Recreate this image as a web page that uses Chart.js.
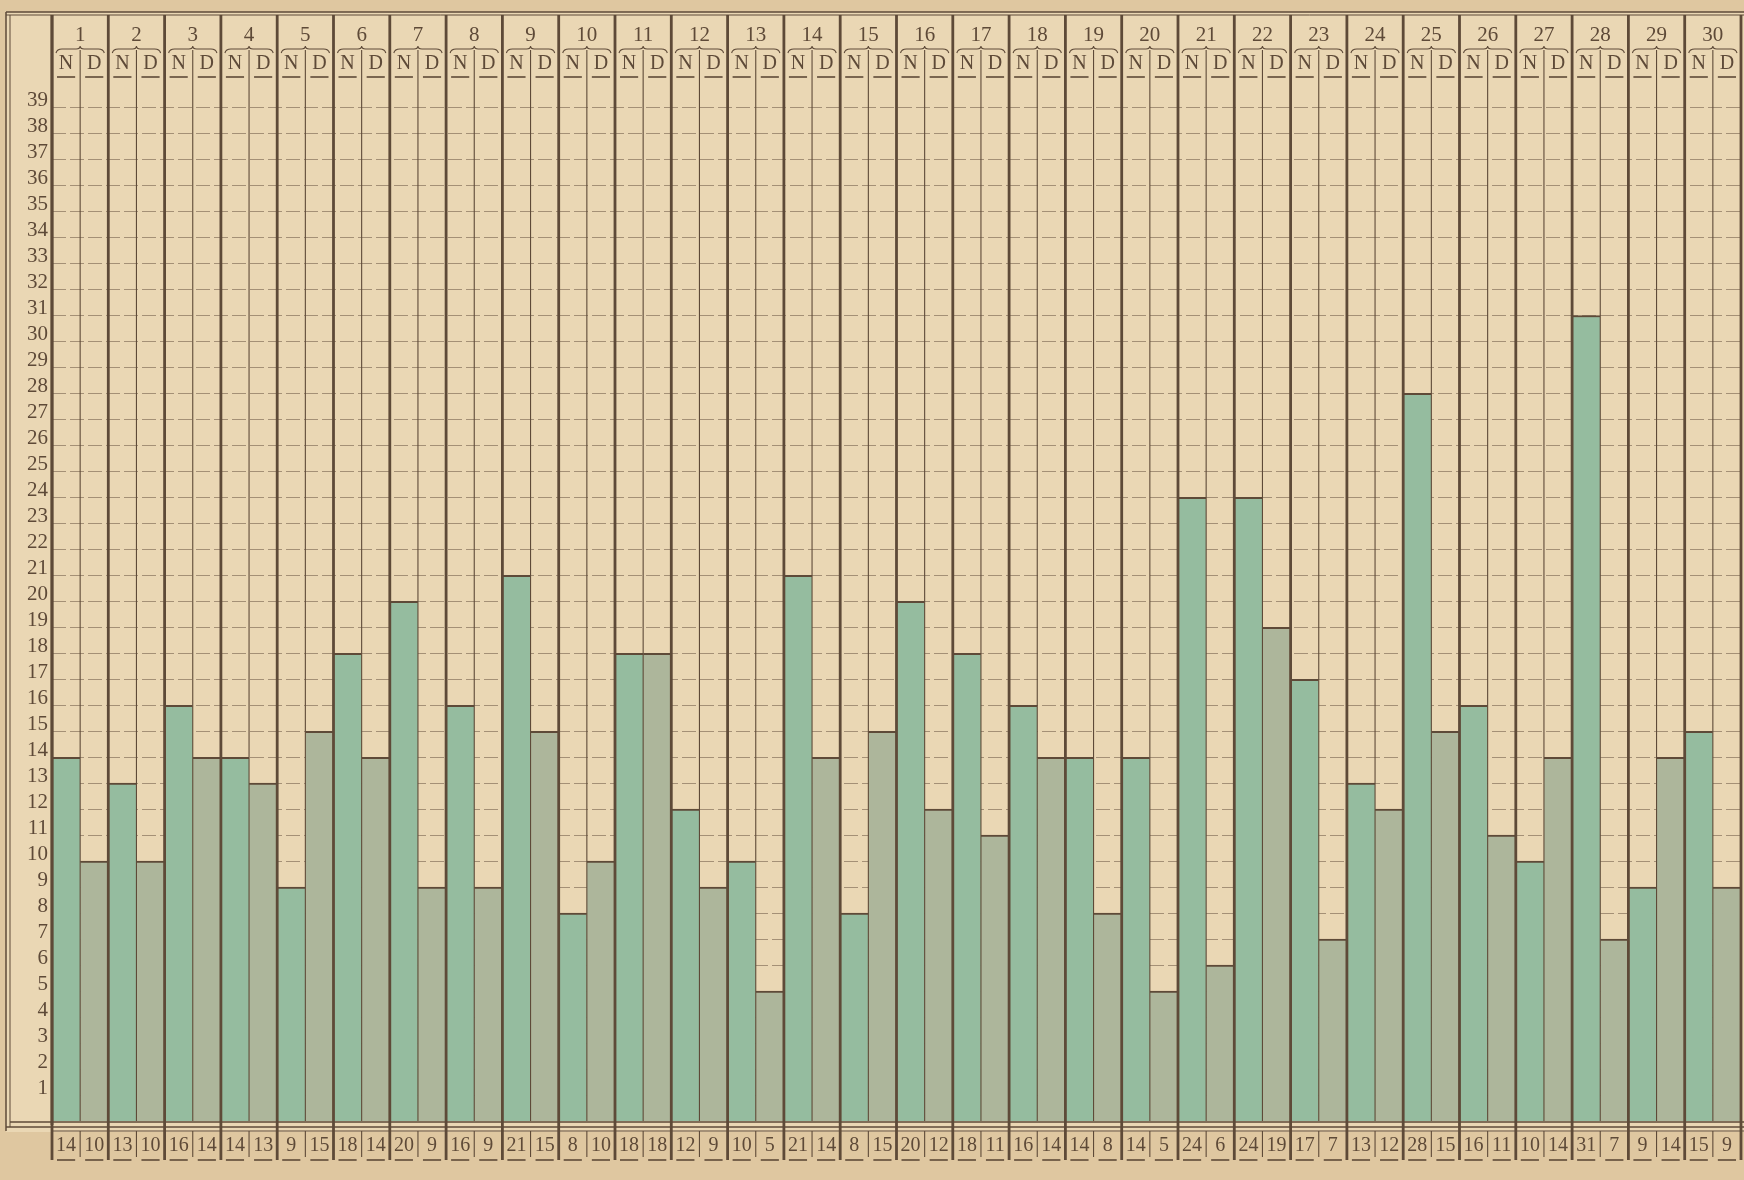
<!DOCTYPE html>
<html>
<head>
<meta charset="utf-8">
<script src="https://cdn.jsdelivr.net/npm/chart.js@4.4.1/dist/chart.umd.min.js"></script>
<style>
  html, body { margin: 0; padding: 0; background: #dfc7a0; }
  #wrap { width: 1744px; height: 1180px; position: relative; }
</style>
</head>
<body>
<div id="wrap"><canvas id="deathsChart"></canvas></div>
<script>
var days = ["1","2","3","4","5","6","7","8","9","10","11","12","13","14","15",
            "16","17","18","19","20","21","22","23","24","25","26","27","28","29","30"];
// N = night, D = day
var nightDeaths = [14,13,16,14,9,18,20,16,21,8,18,12,10,21,8,20,18,16,14,14,24,24,17,13,28,16,10,31,9,15];
var dayDeaths   = [10,10,14,13,15,14,9,9,15,10,18,9,5,14,15,12,11,14,8,5,6,19,7,12,15,11,14,7,14,9];
var yTickValues = [1,2,3,4,5,6,7,8,9,10,11,12,13,14,15,16,17,18,19,20,
                   21,22,23,24,25,26,27,28,29,30,31,32,33,34,35,36,37,38,39];

var ink = '#5e4a38';
var serif = "'Liberation Serif', 'DejaVu Serif', serif";

var halfLabels = [];
var valueLabels = [];
days.forEach(function (d, i) {
    halfLabels.push('N', 'D');
    valueLabels.push(String(nightDeaths[i]), String(dayDeaths[i]));
});

function line(c, x1, y1, x2, y2, w) {
    c.lineWidth = w;
    c.beginPath();
    c.moveTo(x1, y1);
    c.lineTo(x2, y2);
    c.stroke();
}

var paper = {
    id: 'paper',
    beforeDraw: function (chart) {
        var c = chart.ctx;
        c.save();
        c.fillStyle = '#ead7b4';
        c.fillRect(6, 12, 1738, 1120);
        c.restore();
    },
    afterDatasetsDraw: function (chart) {
        var c = chart.ctx, a = chart.chartArea;
        var xs = chart.scales.x;
        var col = xs.getPixelForValue(1) - xs.getPixelForValue(0);
        c.save();
        c.strokeStyle = ink;
        // frame
        line(c, 6, 12, 1744, 12, 1.5);
        line(c, 6, 15, 1744, 15, 1);
        line(c, 6, 12, 6, 1131, 1.5);
        line(c, 10, 15, 10, 1127, 1);
        line(c, a.left, 15, a.left, a.bottom + 4, 2.8);
        line(c, 10, a.bottom + 1, 1744, a.bottom + 1, 1.5);
        line(c, 6, a.bottom + 6, 1744, a.bottom + 6, 1.5);
        line(c, a.left, 1131, 1744, 1131, 1.2);
        for (var i = 0; i < days.length; i++) {
            var mid = xs.getPixelForValue(i);
            var l = mid - col / 2, r = mid + col / 2;
            // day separators
            line(c, l, 15, l, 1160, 2.8);
            if (i === days.length - 1) line(c, r, 15, r, 1160, 2.8);
            // N | D divider
            line(c, mid, 50, mid, a.bottom, 1.1);
            // value boxes
            line(c, mid, 1131, mid, 1157, 1.1);
            // brace under the day number
            c.lineWidth = 1.1;
            c.beginPath();
            c.moveTo(l + 4, 53);
            c.quadraticCurveTo(l + 5, 49, l + 10, 49);
            c.lineTo(mid - 4, 49);
            c.quadraticCurveTo(mid, 49, mid, 46);
            c.quadraticCurveTo(mid, 49, mid + 4, 49);
            c.lineTo(r - 10, 49);
            c.quadraticCurveTo(r - 5, 49, r - 4, 53);
            c.stroke();
            // underlines of N, D and of the values
            line(c, l + 5, 77, mid - 5, 77, 1.6);
            line(c, mid + 5, 77, r - 5, 77, 1.6);
            line(c, l + 5, 1160, mid - 5, 1160, 1.6);
            line(c, mid + 5, 1160, r - 5, 1160, 1.6);
        }
        c.restore();
    }
};

var ctx = document.getElementById('deathsChart').getContext('2d');
var myChart = new Chart(ctx, {
    type: 'bar',
    data: {
        labels: days,
        datasets: [
            {
                label: 'N',
                data: nightDeaths,
                backgroundColor: '#95bc9f',
                borderColor: ink,
                borderWidth: {top: 2, left: 0, right: 0, bottom: 0},
                barPercentage: 1,
                categoryPercentage: 1
            },
            {
                label: 'D',
                data: dayDeaths,
                backgroundColor: '#adb69b',
                borderColor: ink,
                borderWidth: {top: 2, left: 0, right: 0, bottom: 0},
                barPercentage: 1,
                categoryPercentage: 1
            }
        ]
    },
    options: {
        responsive: true,
        maintainAspectRatio: false,
        animation: false,
        layout: {padding: {top: 14, left: 14, right: 3, bottom: 18}},
        plugins: {
            legend: {display: false},
            tooltip: {enabled: false}
        },
        scales: {
            x: {
                position: 'top',
                weight: 2,
                offset: true,
                grid: {display: false},
                border: {display: false},
                ticks: {
                    color: ink, padding: -6, maxRotation: 0, autoSkip: false,
                    font: {family: serif, size: 21}
                },
                afterFit: function (s) { s.height = 36; }
            },
            xHalf: {
                type: 'category',
                labels: halfLabels,
                position: 'top',
                weight: 1,
                offset: true,
                grid: {display: false},
                border: {display: false},
                ticks: {
                    color: ink, padding: -5, maxRotation: 0, autoSkip: false,
                    font: {family: serif, size: 20}
                },
                afterFit: function (s) { s.height = 29; }
            },
            xValues: {
                type: 'category',
                labels: valueLabels,
                position: 'bottom',
                offset: true,
                grid: {display: false},
                border: {display: false},
                ticks: {
                    color: ink, padding: 5, maxRotation: 0, autoSkip: false,
                    font: {family: serif, size: 20}
                },
                afterFit: function (s) { s.height = 41; }
            },
            y: {
                min: 0,
                max: 40.1,
                afterBuildTicks: function (s) {
                    s.ticks = yTickValues.map(function (v) { return {value: v}; });
                },
                grid: {
                    color: 'rgba(94,74,56,0.5)',
                    lineWidth: 1,
                    drawTicks: false
                },
                border: {display: false, dash: [14, 4]},
                ticks: {
                    color: ink, padding: 4, labelOffset: -7, autoSkip: false,
                    font: {family: serif, size: 21}
                },
                afterFit: function (s) { s.width = 38; }
            }
        }
    },
    plugins: [paper]
});
</script>
</body>
</html>
